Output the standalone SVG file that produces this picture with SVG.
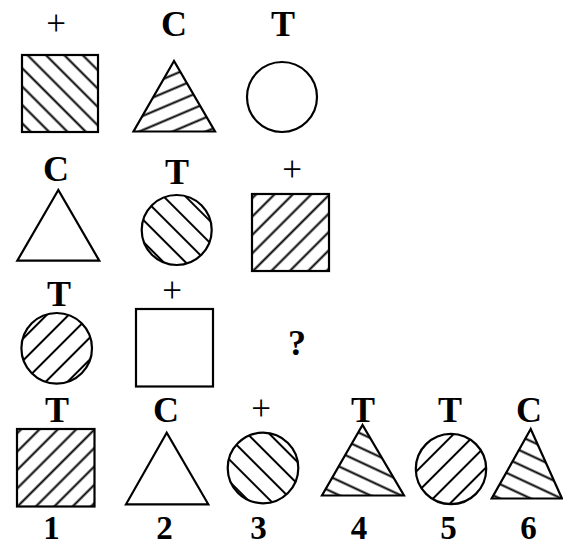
<svg xmlns="http://www.w3.org/2000/svg" width="563" height="541" viewBox="0 0 563 541">
<style>
.sh{fill:none;stroke:#000;stroke-width:2.2;stroke-linejoin:miter}
.hl{stroke:#000;stroke-width:2}
.lb{font-family:"Liberation Serif","Times New Roman",serif;font-weight:bold;font-size:36px;text-anchor:middle;fill:#000}
.dg{font-family:"Liberation Serif","Times New Roman",serif;font-weight:bold;font-size:33px;text-anchor:middle;fill:#000}
.pl{font-family:"Liberation Serif","Times New Roman",serif;font-weight:normal;font-size:35px;text-anchor:middle;fill:#000}
</style>
<defs>
<pattern id="sqbs" width="13" height="13" patternUnits="userSpaceOnUse" patternTransform="rotate(-45)"><line class="hl" x1="6.5" y1="-1" x2="6.5" y2="14"/></pattern>
<pattern id="sqsl" width="13" height="13" patternUnits="userSpaceOnUse" patternTransform="rotate(45)"><line class="hl" x1="6.5" y1="-1" x2="6.5" y2="14"/></pattern>
<pattern id="cibs" width="15.5" height="15.5" patternUnits="userSpaceOnUse" patternTransform="rotate(-45)"><line class="hl" x1="7.75" y1="-1" x2="7.75" y2="16.5"/></pattern>
<pattern id="cisl" width="15.5" height="15.5" patternUnits="userSpaceOnUse" patternTransform="rotate(45)"><line class="hl" x1="7.75" y1="-1" x2="7.75" y2="16.5"/></pattern>
<pattern id="trup" width="13" height="13" patternUnits="userSpaceOnUse" patternTransform="rotate(-23)"><line class="hl" x1="-1" y1="6.5" x2="14" y2="6.5"/></pattern>
<pattern id="trdn" width="13" height="13" patternUnits="userSpaceOnUse" patternTransform="rotate(25)"><line class="hl" x1="-1" y1="6.5" x2="14" y2="6.5"/></pattern>
</defs>

<g id="r1c1">
<text class="pl" x="56" y="35">+</text>
<rect x="22" y="55" width="76" height="77" fill="url(#sqbs)"/>
<rect class="sh" x="22" y="55" width="76" height="77"/>
</g>
<g id="r1c2">
<text class="lb" x="174" y="36">C</text>
<polygon points="174,61 133.5,131.5 215,131.5" fill="url(#trup)"/>
<polygon class="sh" points="174,61 133.5,131.5 215,131.5"/>
</g>
<g id="r1c3">
<text class="lb" x="283" y="36">T</text>
<circle class="sh" cx="282" cy="97" r="35"/>
</g>

<g id="r2c1">
<text class="lb" x="56" y="181">C</text>
<polygon class="sh" points="58.3,190 17.3,260.7 99.3,260.7"/>
</g>
<g id="r2c2">
<text class="lb" x="177" y="184">T</text>
<circle cx="176.7" cy="230" r="35" fill="url(#cibs)"/>
<circle class="sh" cx="176.7" cy="230" r="35"/>
</g>
<g id="r2c3">
<text class="pl" x="292" y="181">+</text>
<rect x="252" y="194" width="77" height="77" fill="url(#sqsl)"/>
<rect class="sh" x="252" y="194" width="77" height="77"/>
</g>

<g id="r3c1">
<text class="lb" x="59" y="306">T</text>
<circle cx="56.7" cy="348.3" r="35.3" fill="url(#cisl)"/>
<circle class="sh" cx="56.7" cy="348.3" r="35.3"/>
</g>
<g id="r3c2">
<text class="pl" x="172" y="302">+</text>
<rect class="sh" x="136" y="309" width="77" height="77.5"/>
</g>
<g id="r3c3">
<text class="lb" x="297" y="355">?</text>
</g>

<g id="opt1">
<text class="lb" x="57" y="422">T</text>
<rect x="17" y="429" width="77.5" height="77.5" fill="url(#sqsl)"/>
<rect class="sh" x="17" y="429" width="77.5" height="77.5"/>
<text class="dg" x="51.5" y="539">1</text>
</g>
<g id="opt2">
<text class="lb" x="166" y="422">C</text>
<polygon class="sh" points="166.7,432.7 126,504.3 208.3,504.3"/>
<text class="dg" x="164.5" y="539">2</text>
</g>
<g id="opt3">
<text class="pl" x="261" y="420">+</text>
<circle cx="263" cy="468" r="35.3" fill="url(#cibs)"/>
<circle class="sh" cx="263" cy="468" r="35.3"/>
<text class="dg" x="258.5" y="539">3</text>
</g>
<g id="opt4">
<text class="lb" x="363" y="422">T</text>
<polygon points="362.5,425 322,495.5 404,495.5" fill="url(#trdn)"/>
<polygon class="sh" points="362.5,425 322,495.5 404,495.5"/>
<text class="dg" x="359" y="539">4</text>
</g>
<g id="opt5">
<text class="lb" x="450" y="422">T</text>
<circle cx="451" cy="469" r="35.2" fill="url(#cisl)"/>
<circle class="sh" cx="451" cy="469" r="35.2"/>
<text class="dg" x="448.5" y="539">5</text>
</g>
<g id="opt6">
<text class="lb" x="529" y="422">C</text>
<polygon points="530.7,429 491.7,498.5 562,498.5" fill="url(#trdn)"/>
<polygon class="sh" points="530.7,429 491.7,498.5 562,498.5"/>
<text class="dg" x="528.5" y="539">6</text>
</g>
</svg>
